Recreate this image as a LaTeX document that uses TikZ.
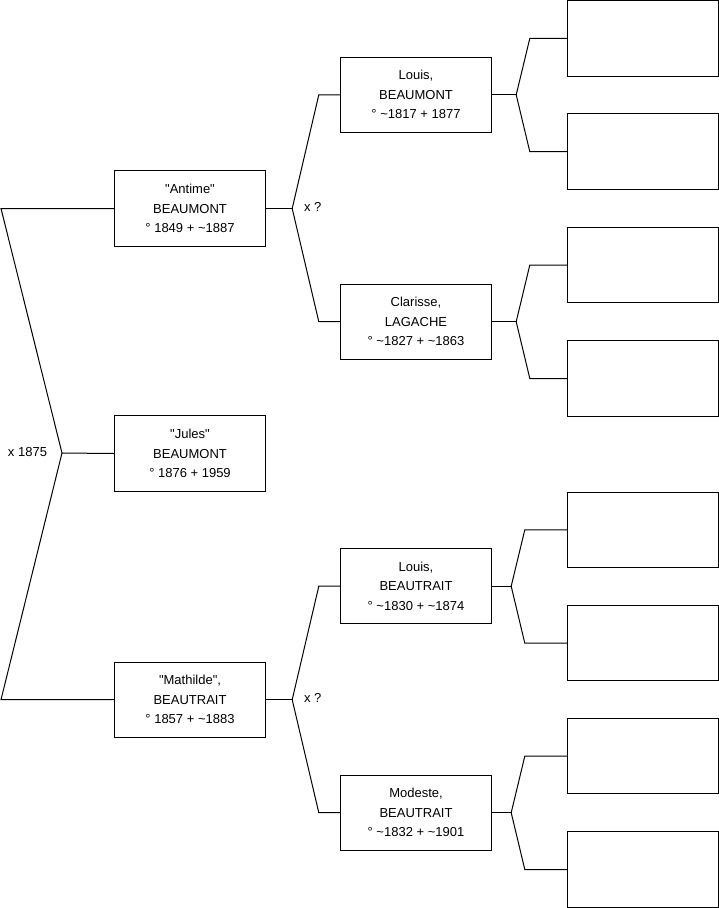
\documentclass[tikz,border=0pt]{standalone}
\usepackage{fontspec}
\setmainfont{Liberation Sans}
\usepackage{tikz}
\usetikzlibrary{positioning}
\newcommand{\ca}{\textasciitilde}
\newcommand{\qq}{\textquotedbl}

\tikzset{
  person/.style={draw, line width=1pt, minimum width=151.4pt, minimum height=75.3pt,
    inner sep=0pt, align=center, font=\fontsize{13}{19.5}\selectfont},
  blank/.style={draw, line width=1pt, minimum width=151.4pt, minimum height=75.5pt, inner sep=0pt},
  link/.style={line width=1pt},
  note/.style={font=\fontsize{13}{14}\selectfont, inner sep=0pt}
}

\begin{document}
\begin{tikzpicture}[x=1pt, y=-1pt]
  \useasboundingbox (0,0) rectangle (719,908);
  % Generation 1 and 2
  \node[person] (antime) at (190,208.5) {\qq Antime\qq\\BEAUMONT\\° 1849 + \ca1887};
  \node[person] (jules) at (190,453.5) {\qq Jules\qq\\BEAUMONT\\° 1876 + 1959};
  \node[person] (mathilde) at (190,699.7) {\qq Mathilde\qq,\\BEAUTRAIT\\° 1857 + \ca1883};
  % Generation 3
  \node[person] (louisbm) at (416,94.8) {Louis,\\BEAUMONT\\° \ca1817 + 1877};
  \node[person] (clarisse) at (416,321.7) {Clarisse,\\LAGACHE\\° \ca1827 + \ca1863};
  \node[person] (louisbt) at (416,586.2) {Louis,\\BEAUTRAIT\\° \ca1830 + \ca1874};
  \node[person] (modeste) at (416,812.7) {Modeste,\\BEAUTRAIT\\° \ca1832 + \ca1901};
  % Generation 4 (empty)
  \foreach \n/\y in {e1/38.4, e2/151.7, e3/265, e4/378.5, e5/529.8, e6/643.2, e7/756.2, e8/869.5}
    \node[blank] (\n) at (643,\y) {};

  % Marriage of the parents
  \coordinate (topend) at (1,208.5);
  \coordinate (botend) at (1,699.7);
  \coordinate (wed) at (62,453);
  \draw[link] (antime.west) -- (topend) -- (wed) -- (botend) -- (mathilde.west);
  \draw[link] (wed) -- (jules.west);
  \node[note] (wedlbl) at (27.5,451.7) {x 1875};

  % Parents of Antime and Mathilde
  \foreach \c/\f/\m/\y in {antime/louisbm/clarisse/206.7, mathilde/louisbt/modeste/698.3} {
    \draw[link] (\c.east) -- ++(26,0) coordinate (\c-j);
    \draw[link] (\f.west) -- ++(-21,0) -- (\c-j) -- ([xshift=-21pt]\m.west) -- (\m.west);
    \node[note] (\c-lbl) at (312.7,\y) {x ?};
  }

  % Grandparents (unknown)
  \foreach \p/\a/\b/\d/\e in {louisbm/e1/e2/24/37, clarisse/e3/e4/24/37, louisbt/e5/e6/19/42, modeste/e7/e8/19/42} {
    \draw[link] (\p.east) -- ++(\d,0) coordinate (\p-j);
    \draw[link] (\a.west) -- ++(-\e,0) -- (\p-j) -- ([xshift=-\e pt]\b.west) -- (\b.west);
  }
\end{tikzpicture}
\end{document}
